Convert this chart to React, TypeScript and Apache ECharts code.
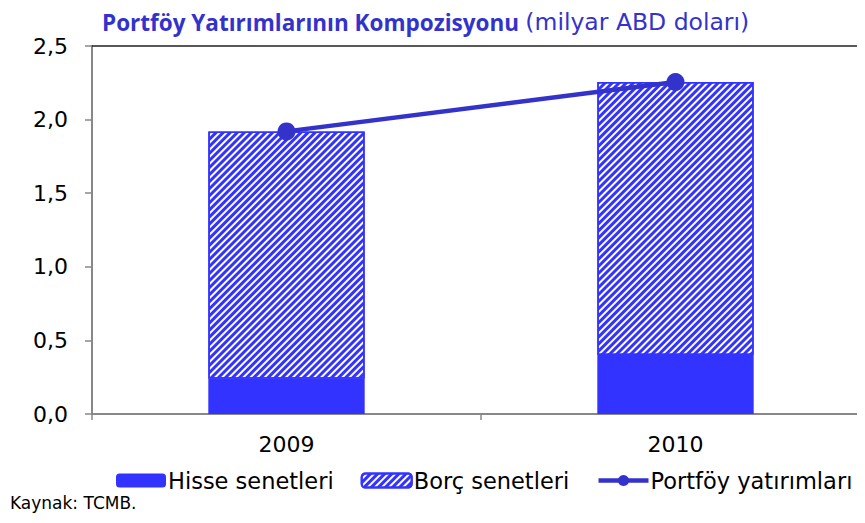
import React, { useEffect, useRef } from "react";
import * as echarts from "echarts";

const categories = ["2009", "2010"];
const hisseSenetleri = [0.24, 0.4];
const borcSenetleri = [1.68, 1.855];
const portfoyYatirimlari = [1.92, 2.255];
const yTicks = { min: 0, max: 2.5, interval: 0.5 };

const FONT = "'DejaVu Sans', sans-serif";
const TFONT = "'Open Sans', sans-serif";

export default function App() {
  const ref = useRef<HTMLDivElement>(null);
  useEffect(() => {
    if (!ref.current) return;
    const chart = echarts.init(ref.current, null, { renderer: "svg" });
    chart.setOption({
      animation: false,
      textStyle: { fontFamily: FONT },
      title: {
        left: 102,
        top: 9,
        padding: 0,
        text: "{b|Portföy Yatırımlarının Kompozisyonu} {n|(milyar ABD doları)}",
        textStyle: {
          rich: {
            b: { fontSize: 22.5, fontWeight: "bold", color: "#3333cc", fontFamily: TFONT, lineHeight: 26 },
            n: { fontSize: 23.5, fontWeight: "normal", color: "#3333cc", fontFamily: FONT, lineHeight: 26 },
          },
        },
      },
      grid: { left: 92, top: 46, bottom: 109, width: 778, outerBoundsMode: "none" },
      legend: {
        left: 116,
        top: 469,
        padding: 0,
        itemWidth: 50,
        itemHeight: 14,
        itemGap: 27,
        textStyle: { fontSize: 22.5, color: "#000", fontFamily: FONT, padding: [0, 0, 0, -3] },
        data: [
          { name: "Hisse senetleri" },
          { name: "Borç senetleri" },
          { name: "Portföy yatırımları", lineStyle: { width: 4.5 } },
        ],
      },
      graphic: [
        {
          type: "text",
          left: 10,
          top: 494,
          style: { text: "Kaynak: TCMB.", fontSize: 17, fill: "#000", fontFamily: FONT },
        },
      ],
      xAxis: [
        {
          type: "category",
          data: categories,
          axisLine: { lineStyle: { color: "#888", width: 2 } },
          axisTick: { show: true, length: 6, lineStyle: { color: "#888", width: 1.5 } },
          axisLabel: { fontSize: 22, color: "#000", margin: 19 },
        },
        {
          type: "category",
          data: categories,
          position: "top",
          axisLine: { lineStyle: { color: "#222", width: 1.5 } },
          axisTick: { show: false },
          axisLabel: { show: false },
        },
      ],
      yAxis: {
        type: "value",
        min: yTicks.min,
        max: yTicks.max,
        interval: yTicks.interval,
        axisLine: { show: true, lineStyle: { color: "#888", width: 2 } },
        axisTick: { show: true, length: 7, lineStyle: { color: "#888", width: 1.5 } },
        splitLine: { show: false },
        axisLabel: {
          fontSize: 22,
          color: "#000",
          margin: 24,
          formatter: (v: number) => v.toFixed(1).replace(".", ","),
        },
      },
      series: [
        {
          name: "Hisse senetleri",
          type: "bar",
          stack: "t",
          barWidth: "40.2%",
          data: hisseSenetleri,
          itemStyle: { color: "#3333ff" },
        },
        {
          name: "Borç senetleri",
          type: "bar",
          stack: "t",
          data: borcSenetleri,
          itemStyle: {
            color: "#ffffff",
            borderColor: "#3333ff",
            borderWidth: 1.5,
            decal: {
              symbol: "rect",
              symbolSize: 1,
              color: "#3333ff",
              dashArrayX: [1, 0],
              dashArrayY: [2.1, 1.4],
              rotation: -Math.PI / 4,
            },
          },
        },
        {
          name: "Portföy yatırımları",
          type: "line",
          data: portfoyYatirimlari,
          symbol: "circle",
          symbolSize: 18,
          z: 5,
          lineStyle: { color: "#3333cc", width: 4.5 },
          itemStyle: { color: "#3333cc" },
        },
      ],
    });
    return () => chart.dispose();
  }, []);
  return <div ref={ref} style={{ width: 865, height: 523, margin: -8 }} />;
}
